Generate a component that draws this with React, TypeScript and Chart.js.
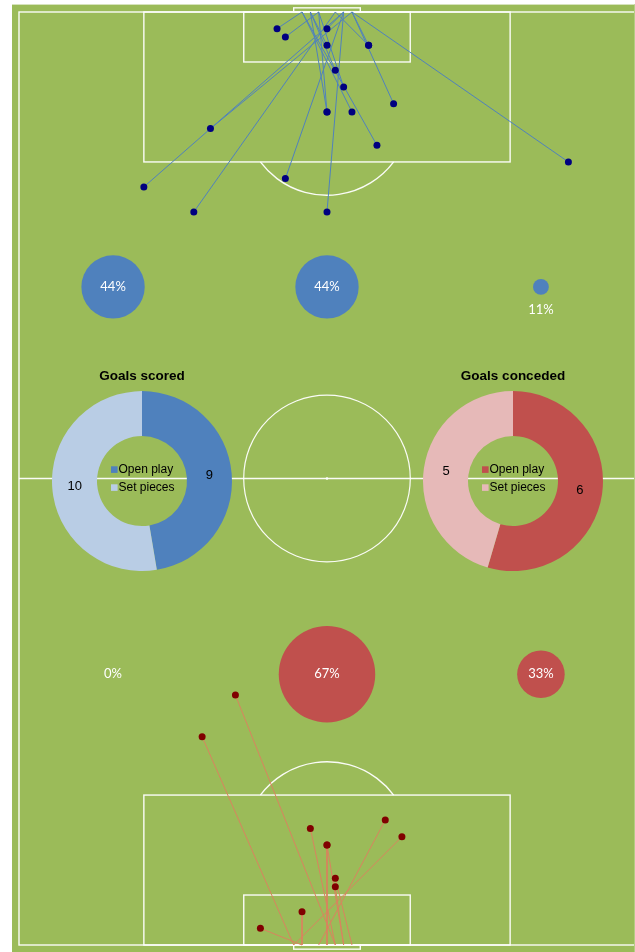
import React, { useEffect, useRef } from "react";
import { Chart, registerables } from "chart.js";

Chart.register(...registerables);

// ---------- pitch (yards): x across from left touchline, y down from top goal line ----------
const PITCH_WIDTH = 74;
const PITCH_LENGTH = 112;
const X_RANGE = [-0.84, 73.88];
const Y_RANGE = [-0.84, 112.84];
const BOX_WIDTH = 44;
const BOX_DEPTH = 18;
const SIX_WIDTH = 20;
const SIX_DEPTH = 6;
const GOAL_WIDTH = 8;
const GOAL_DEPTH = 0.5;
const CIRCLE_RADIUS = 10;
const SPOT_DISTANCE = 12;

// ---------- goals scored (shot position -> point on goal line) ----------
const SCORED_FROM_X = [31, 32, 37, 37, 42, 42, 38, 39, 45, 37, 37, 40, 23, 43, 15, 32, 21, 37, 66];
const SCORED_FROM_Y = [2, 3, 2, 4, 4, 4, 7, 9, 11, 12, 12, 12, 14, 16, 21, 20, 24, 24, 18];
const SCORED_GOAL_X = [34, 36, 39, 35, 38, 40, 35, 36, 40, 35, 36, 34, 40, 34, 39, 39, 38, 39, 40];

// ---------- goals conceded ----------
const CONCEDED_FROM_X = [35, 37, 37, 44, 46, 38, 38, 34, 29, 26, 22];
const CONCEDED_FROM_Y = [98, 100, 100, 97, 99, 104, 105, 108, 110, 82, 87];
const CONCEDED_GOAL_X = [38, 37, 39, 36, 33, 40, 39, 34, 34, 38, 33];

// ---------- open-play goals by channel ----------
const ZONE_X = [11.3, 37, 62.7];
const SCORED_ZONE_Y = 33;
const CONCEDED_ZONE_Y = 79.5;
const SCORED_ZONE_PCT = [44, 44, 11];
const CONCEDED_ZONE_PCT = [0, 67, 33];
const BUBBLE_R_PER_PCT = 0.72;

// ---------- goal types ----------
const GOAL_TYPES = ["Open play", "Set pieces"];
const GOALS_SCORED = [9, 10];
const GOALS_CONCEDED = [6, 5];

const BLUE = "#4F81BD";
const LIGHT_BLUE = "#B9CDE5";
const RED = "#C0504D";
const LIGHT_RED = "#E6B9B8";
const SCORED_LINE = "#4F81BD";
const SCORED_DOT = "#000080";
const CONCEDED_LINE = "#D9835F";
const CONCEDED_DOT = "#800000";

const pitchPlugin = {
  id: "pitchMarkings",
  beforeDatasetsDraw(chart: any) {
    const { ctx } = chart;
    const xs = chart.scales.x;
    const ys = chart.scales.y;
    const px = (v: number) => xs.getPixelForValue(v);
    const py = (v: number) => ys.getPixelForValue(v);
    const unit = Math.abs(py(1) - py(0));
    ctx.save();
    ctx.strokeStyle = "rgba(255,255,255,0.95)";
    ctx.lineWidth = 1.4;
    const rect = (x0: number, y0: number, x1: number, y1: number) => {
      ctx.strokeRect(px(x0), py(y0), px(x1) - px(x0), py(y1) - py(y0));
    };
    const mid = PITCH_WIDTH / 2;
    rect(0, 0, PITCH_WIDTH, PITCH_LENGTH);
    ctx.beginPath();
    ctx.moveTo(px(0), py(PITCH_LENGTH / 2));
    ctx.lineTo(px(PITCH_WIDTH), py(PITCH_LENGTH / 2));
    ctx.stroke();
    ctx.lineWidth = 1.2;
    ctx.beginPath();
    ctx.arc(px(mid), py(PITCH_LENGTH / 2), CIRCLE_RADIUS * unit, 0, Math.PI * 2);
    ctx.stroke();
    ctx.fillStyle = "#FFFFFF";
    ctx.beginPath();
    ctx.arc(px(mid), py(PITCH_LENGTH / 2), 1.3, 0, Math.PI * 2);
    ctx.fill();
    ctx.lineWidth = 1.4;
    const a = Math.acos((BOX_DEPTH - SPOT_DISTANCE) / CIRCLE_RADIUS);
    // top end
    rect(mid - BOX_WIDTH / 2, 0, mid + BOX_WIDTH / 2, BOX_DEPTH);
    rect(mid - SIX_WIDTH / 2, 0, mid + SIX_WIDTH / 2, SIX_DEPTH);
    rect(mid - GOAL_WIDTH / 2, -GOAL_DEPTH, mid + GOAL_WIDTH / 2, 0);
    ctx.beginPath();
    ctx.arc(px(mid), py(SPOT_DISTANCE), CIRCLE_RADIUS * unit, Math.PI / 2 - a, Math.PI / 2 + a);
    ctx.stroke();
    // bottom end
    rect(mid - BOX_WIDTH / 2, PITCH_LENGTH - BOX_DEPTH, mid + BOX_WIDTH / 2, PITCH_LENGTH);
    rect(mid - SIX_WIDTH / 2, PITCH_LENGTH - SIX_DEPTH, mid + SIX_WIDTH / 2, PITCH_LENGTH);
    rect(mid - GOAL_WIDTH / 2, PITCH_LENGTH, mid + GOAL_WIDTH / 2, PITCH_LENGTH + GOAL_DEPTH);
    ctx.beginPath();
    ctx.arc(px(mid), py(PITCH_LENGTH - SPOT_DISTANCE), CIRCLE_RADIUS * unit, -Math.PI / 2 - a, -Math.PI / 2 + a);
    ctx.stroke();
    ctx.restore();
  },
};

const bubbleLabelPlugin = {
  id: "bubbleLabels",
  afterDatasetsDraw(chart: any) {
    const { ctx } = chart;
    ctx.save();
    ctx.font = '13px Lato, "Open Sans", sans-serif';
    ctx.fillStyle = "#FFFFFF";
    ctx.textAlign = "center";
    ctx.textBaseline = "middle";
    chart.data.datasets.forEach((ds: any, di: number) => {
      if (ds.type !== "bubble") return;
      const meta = chart.getDatasetMeta(di);
      meta.data.forEach((el: any, i: number) => {
        const d = ds.data[i];
        const small = d.r > 0 && d.r < 15;
        const y = small ? el.y + d.r + 15 : el.y;
        ctx.fillText(`${d.pct}%`, el.x, y);
      });
    });
    ctx.restore();
  },
};

function shotDatasets(fx: number[], fy: number[], gx: number[], goalY: number, lineColor: string, dotColor: string) {
  const lines = fx.map((x, i) => ({
    type: "scatter",
    data: [
      { x, y: fy[i] },
      { x: gx[i], y: goalY },
    ],
    showLine: true,
    borderColor: lineColor,
    borderWidth: 1,
    pointRadius: 0,
    order: 3,
  }));
  const dots = {
    type: "scatter",
    data: fx.map((x, i) => ({ x, y: fy[i] })),
    pointRadius: 3.5,
    pointBackgroundColor: dotColor,
    pointBorderWidth: 0,
    order: 1,
  };
  return [...lines, dots];
}

function zoneBubbles(pcts: number[], zy: number, color: string) {
  return {
    type: "bubble",
    data: pcts.map((p, i) => ({ x: ZONE_X[i], y: zy, r: p * BUBBLE_R_PER_PCT, pct: p })),
    backgroundColor: color,
    borderWidth: 0,
    order: 2,
  };
}

function PitchChart() {
  const ref = useRef<HTMLCanvasElement | null>(null);
  useEffect(() => {
    const chart = new Chart(ref.current as HTMLCanvasElement, {
      type: "scatter",
      data: {
        datasets: [
          ...shotDatasets(SCORED_FROM_X, SCORED_FROM_Y, SCORED_GOAL_X, 0, SCORED_LINE, SCORED_DOT),
          ...shotDatasets(CONCEDED_FROM_X, CONCEDED_FROM_Y, CONCEDED_GOAL_X, PITCH_LENGTH, CONCEDED_LINE, CONCEDED_DOT),
          zoneBubbles(SCORED_ZONE_PCT, SCORED_ZONE_Y, BLUE),
          zoneBubbles(CONCEDED_ZONE_PCT, CONCEDED_ZONE_Y, RED),
        ] as any,
      },
      options: {
        animation: false,
        responsive: false,
        events: [],
        devicePixelRatio: 1,
        layout: { padding: 0, autoPadding: false },
        scales: {
          x: { type: "linear", min: X_RANGE[0], max: X_RANGE[1], display: false },
          y: { type: "linear", min: Y_RANGE[0], max: Y_RANGE[1], reverse: true, display: false },
        },
        plugins: { legend: { display: false }, tooltip: { enabled: false } },
      } as any,
      plugins: [pitchPlugin, bubbleLabelPlugin],
    });
    return () => chart.destroy();
  }, []);
  return (
    <canvas
      ref={ref}
      width={622}
      height={947}
      style={{ position: "absolute", left: 0, top: 0, width: 622, height: 947 }}
    />
  );
}

const donutLabelPlugin = {
  id: "donutLabels",
  afterDatasetsDraw(chart: any) {
    const { ctx } = chart;
    const meta = chart.getDatasetMeta(0);
    const values = chart.data.datasets[0].data;
    ctx.save();
    ctx.font = '13px "Liberation Sans", Arial, sans-serif';
    ctx.fillStyle = "#000000";
    ctx.textAlign = "center";
    ctx.textBaseline = "middle";
    meta.data.forEach((arc: any, i: number) => {
      const p = arc.tooltipPosition();
      ctx.fillText(String(values[i]), p.x, p.y);
    });
    ctx.restore();
  },
};

const centerLegendPlugin = {
  id: "centerLegend",
  afterDraw(chart: any) {
    const { ctx } = chart;
    const arc = chart.getDatasetMeta(0).data[0];
    const colors = chart.data.datasets[0].backgroundColor;
    const rows = [-11.5, 6.5];
    ctx.save();
    ctx.font = '12px "Liberation Sans", Arial, sans-serif';
    ctx.textAlign = "left";
    ctx.textBaseline = "middle";
    chart.data.labels.forEach((label: string, i: number) => {
      const y = arc.y + rows[i];
      ctx.fillStyle = colors[i];
      ctx.fillRect(arc.x - 31, y - 3.3, 6.6, 6.6);
      ctx.fillStyle = "#000000";
      ctx.fillText(label, arc.x - 23.5, y);
    });
    ctx.restore();
  },
};

function GoalsDonut({ title, values, colors, left, top }: { title: string; values: number[]; colors: string[]; left: number; top: number }) {
  const ref = useRef<HTMLCanvasElement | null>(null);
  useEffect(() => {
    const chart = new Chart(ref.current as HTMLCanvasElement, {
      type: "doughnut",
      data: {
        labels: GOAL_TYPES,
        datasets: [{ data: values, backgroundColor: colors, borderWidth: 0 }],
      },
      options: {
        animation: false,
        responsive: false,
        events: [],
        devicePixelRatio: 1,
        radius: 90,
        cutout: "50%",
        layout: { padding: 0 },
        plugins: {
          legend: { display: false },
          tooltip: { enabled: false },
          title: {
            display: true,
            text: title,
            color: "#000000",
            font: { family: '"Liberation Sans", Arial, sans-serif', size: 13.5, weight: "bold", lineHeight: 1.2 },
            padding: { top: 0, bottom: 0 },
          },
        },
      } as any,
      plugins: [donutLabelPlugin, centerLegendPlugin],
    });
    return () => chart.destroy();
  }, []);
  return (
    <canvas
      ref={ref}
      width={200}
      height={210}
      style={{ position: "absolute", left, top, width: 200, height: 210 }}
    />
  );
}

export default function App() {
  return (
    <div style={{ position: "absolute", left: 0, top: 0, width: 635, height: 952, overflow: "hidden", background: "#FFFFFF" }}>
      <div
        style={{
          position: "absolute",
          left: 12,
          top: 4,
          width: 622,
          height: 947,
          borderTop: "1px solid #D6E3BC",
          borderRight: "1px solid #B4CC84",
          background: "#9BBB59",
        }}
      >
        <PitchChart />
      </div>
      <GoalsDonut title="Goals scored" values={GOALS_SCORED} colors={[BLUE, LIGHT_BLUE]} left={42} top={368} />
      <GoalsDonut title="Goals conceded" values={GOALS_CONCEDED} colors={[RED, LIGHT_RED]} left={413} top={368} />
    </div>
  );
}
